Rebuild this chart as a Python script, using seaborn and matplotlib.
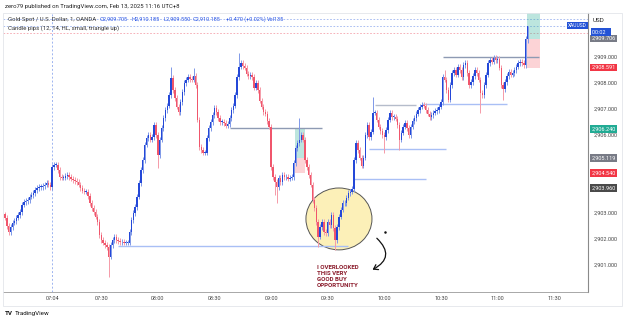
import matplotlib
matplotlib.use("Agg")
import matplotlib.pyplot as plt
from matplotlib.patches import Ellipse, Rectangle, FancyArrowPatch
import matplotlib.transforms as mtransforms
import numpy as np
import pandas as pd
import seaborn as sns

# ===============================
# Data (1-minute closes, XAUUSD, OANDA)
# ===============================
closes = [
    2902.81, 2902.50, 2902.27, 2902.46, 2902.62, 2902.69, 2902.81, 2902.92, 2903.04, 2903.31,
    2903.42, 2903.46, 2903.50, 2903.62, 2903.69, 2903.77, 2903.88, 2903.96, 2904.00, 2904.00,
    2904.04, 2904.08, 2904.15, 2904.08, 2904.00, 2904.77, 2904.85, 2904.85, 2904.65, 2904.38,
    2904.35, 2904.35, 2904.42, 2904.46, 2904.38, 2904.31, 2904.27, 2904.23, 2904.19, 2904.08,
    2903.96, 2903.85, 2903.81, 2903.81, 2903.65, 2903.38, 2903.19, 2903.04, 2902.85, 2902.65,
    2902.15, 2901.96, 2901.85, 2901.77, 2901.69, 2901.31, 2901.77, 2901.96, 2902.08, 2901.96,
    2901.92, 2901.88, 2901.88, 2901.85, 2901.85, 2901.85, 2902.27, 2902.73, 2903.00, 2903.23,
    2903.62, 2904.15, 2904.65, 2905.04, 2905.62, 2905.88, 2906.00, 2905.81, 2905.92, 2906.38,
    2906.00, 2905.23, 2905.81, 2906.27, 2906.65, 2906.96, 2907.12, 2907.54, 2908.19, 2907.73,
    2907.42, 2907.08, 2906.88, 2907.27, 2907.65, 2908.00, 2908.12, 2908.23, 2908.15, 2908.12,
    2908.27, 2907.92, 2906.58, 2905.54, 2905.42, 2905.31, 2905.31, 2905.88, 2906.27, 2906.50,
    2906.77, 2907.04, 2906.88, 2906.65, 2906.50, 2906.50, 2906.46, 2906.35, 2906.42, 2906.65,
    2906.96, 2907.12, 2907.54, 2908.23, 2908.62, 2908.77, 2908.65, 2908.58, 2908.35, 2908.27,
    2908.31, 2908.23, 2907.81, 2908.00, 2907.73, 2907.31, 2907.08, 2906.88, 2906.81, 2906.54,
    2906.31, 2904.77, 2904.38, 2904.19, 2904.00, 2904.35, 2904.19, 2904.46, 2904.38, 2904.38,
    2904.31, 2904.35, 2904.38, 2904.92, 2905.50, 2905.69, 2905.81, 2906.00, 2905.81, 2905.04,
    2904.77, 2904.46, 2904.08, 2903.50, 2903.19, 2902.65, 2902.08, 2902.46, 2902.65, 2902.27,
    2902.23, 2902.65, 2902.54, 2902.92, 2902.42, 2901.96, 2902.46, 2902.85, 2903.12, 2903.38,
    2903.38, 2903.58, 2903.77, 2903.81, 2903.92, 2905.04, 2905.69, 2905.42, 2905.12, 2904.81,
    2905.12, 2906.00, 2906.38, 2905.92, 2906.12, 2906.85, 2906.85, 2906.58, 2906.31, 2906.15,
    2906.00, 2905.92, 2906.19, 2906.58, 2906.85, 2906.69, 2906.69, 2906.62, 2906.38, 2905.81,
    2906.08, 2906.31, 2906.46, 2906.27, 2906.00, 2906.31, 2906.54, 2906.65, 2906.81, 2906.96,
    2907.08, 2907.15, 2907.12, 2906.96, 2906.81, 2906.69, 2906.77, 2906.85, 2906.92, 2906.96,
    2907.08, 2907.27, 2908.23, 2908.12, 2907.73, 2907.35, 2907.92, 2908.38, 2908.50, 2908.31,
    2908.62, 2908.50, 2908.23, 2908.69, 2908.77, 2908.38, 2907.92, 2908.04, 2908.27, 2908.50,
    2908.38, 2908.12, 2907.62, 2907.54, 2907.92, 2908.31, 2908.77, 2908.88, 2908.81, 2908.96,
    2908.88, 2908.92, 2908.58, 2907.92, 2907.77, 2908.04, 2908.27, 2908.42, 2908.31, 2908.38,
    2908.50, 2908.62, 2908.77, 2908.81, 2908.77, 2908.69, 2909.705, 2910.185,
]
first_open = 2902.95

# notable wicks (bar index -> price)
wick_high = {88: 2908.62, 100: 2908.58, 124: 2909.15, 156: 2906.65, 195: 2907.46,
             233: 2908.50, 277: 2910.185}
wick_low = {55: 2900.54, 81: 2904.73, 143: 2903.69, 144: 2903.38, 166: 2901.69,
            175: 2901.58, 201: 2905.31, 209: 2905.42, 252: 2906.85, 264: 2907.35,
            277: 2909.55}

session_start_bar = 25          # first bar of the 07:04 session
time_labels = ["07:04", "07:30", "08:00", "08:30", "09:00", "09:30",
               "10:00", "10:30", "11:00", "11:30"]
price_ticks = [2901, 2902, 2903, 2906, 2907, 2908, 2909]

# horizontal levels drawn on the chart: price, from bar, to bar, colour
level_price = [2901.73, 2906.27, 2904.31, 2905.46, 2907.15, 2907.19, 2909.00]
level_from = [60, 119, 185, 193, 196, 221, 232]
level_to = [182, 168, 223, 234, 218, 266, 283]
level_color = ["#a9bff5", "#8e9ab3", "#a9bff5", "#a9bff5", "#b5bccb", "#a9bff5", "#8e9ab3"]

# price-axis tags: price, background
tag_price = [2909.706, 2908.591, 2906.240, 2905.119, 2904.540, 2903.960]
tag_color = ["#787b86", "#f23645", "#22ab94", "#787b86", "#f23645", "#4a4a4a"]

# ===============================
# Build DataFrame
# ===============================
df = pd.DataFrame({"close": closes})
df["open"] = [first_open] + closes[:-1]
df["high"] = df[["open", "close"]].max(axis=1) + 0.1
df["low"] = df[["open", "close"]].min(axis=1) - 0.1
for k, v in wick_high.items():
    df.loc[k, "high"] = v
for k, v in wick_low.items():
    df.loc[k, "low"] = v
df["up"] = df["close"] >= df["open"]

t0 = pd.Timestamp("2025-02-13 07:04")
tick_pos = [session_start_bar + int((pd.Timestamp("2025-02-13 " + t) - t0).total_seconds() // 60)
            for t in time_labels]

# ===============================
# Plot
# ===============================
sns.set_theme(style="white")
plt.rcParams["font.family"] = ["Roboto", "DejaVu Sans"]

W, H = 625, 322
fig = plt.figure(figsize=(W / 100, H / 100), dpi=100)


def fx(x):
    return x / W


def fy(y):
    return 1 - y / H


ax = fig.add_axes([fx(3), fy(292), fx(588) - fx(3), fy(13) - fy(292)])
ax.set_xlim(-1.06, 309)
ax.set_ylim(2899.96, 2910.69)

up_c, dn_c = "#2448d8", "#f0566c"
colors = np.where(df["up"], up_c, dn_c)
wick_colors = np.where(df["up"], "#7f98e8", "#f59aa8")
idx = df.index.values

# dotted price lines and session separator
for p, c in [(2910.46, "#9db4f0"), (2910.185, "#9db4f0"), (2909.92, "#f5a3ad")]:
    ax.axhline(p, color=c, lw=0.6, ls=(0, (2, 2)), zorder=1)
ax.axvline(session_start_bar, color="#9db4f0", lw=0.7, ls=(0, (2, 2)), zorder=1)

# yellow circle
ax.add_patch(Ellipse((177, 2902.77), 35, 2.38, facecolor="#fcf0b8", edgecolor="#555555",
                     lw=0.7, zorder=1))

# position boxes
ax.add_patch(Rectangle((153.5, 2905.119), 5.5, 2906.24 - 2905.119, facecolor="#22ab94",
                       alpha=0.3, lw=0, zorder=1.5))
ax.add_patch(Rectangle((153.5, 2904.54), 5.5, 2905.119 - 2904.54, facecolor="#f7525f",
                       alpha=0.25, lw=0, zorder=1.5))
ax.add_patch(Rectangle((276.5, 2909.706), 7, 2910.70 - 2909.706, facecolor="#22ab94",
                       alpha=0.3, lw=0, zorder=1.5))
ax.add_patch(Rectangle((276.5, 2908.591), 7, 2909.706 - 2908.591, facecolor="#f7525f",
                       alpha=0.25, lw=0, zorder=1.5))

# level lines
for p, a, b, c in zip(level_price, level_from, level_to, level_color):
    ax.hlines(p, a, b, color=c, lw=1.0, zorder=1.8)

# candles
ax.vlines(idx, df["low"], df["high"], color=wick_colors, lw=0.7, zorder=2)
body = (df["close"] - df["open"]).abs().clip(lower=0.02)
ax.bar(idx, body, bottom=df[["open", "close"]].min(axis=1), width=0.75,
       color=colors, lw=0, zorder=2.2)

# annotation
ax.text(165.3, 2900.98, "I OVERLOOKED\nTHIS VERY\nGOOD BUY\nOPPORTUNITY", fontsize=4.4,
        fontweight="bold", color="#8b1c2c", va="top", ha="left", linespacing=1.25, zorder=4)
ax.add_patch(FancyArrowPatch((196, 2902.1), (193.5, 2900.77),
                             connectionstyle="arc3,rad=-0.75", arrowstyle="->,head_length=3,head_width=2",
                             color="#111111", lw=0.9, zorder=4))
ax.plot([201.5], [2902.25], marker="o", ms=0.8, color="#111111", zorder=4)

# axes styling
ax.set_xticks(tick_pos)
ax.set_xticklabels(time_labels)
ax.yaxis.tick_right()
ax.set_yticks(price_ticks)
ax.set_yticklabels([f"{p:,.3f}" for p in price_ticks])
ax.tick_params(axis="both", length=0, labelsize=4, colors="#444444")
ax.tick_params(axis="x", pad=3)
ax.tick_params(axis="y", pad=4)
for s in ["top", "left"]:
    ax.spines[s].set_visible(False)
ax.spines["right"].set_color("#8a8a8a")
ax.spines["right"].set_linewidth(0.8)
ax.spines["bottom"].set_color("#9a9a9a")
ax.spines["bottom"].set_linewidth(0.6)

# price tags on axis
trans = mtransforms.blended_transform_factory(ax.transAxes, ax.transData)
for p, c in zip(tag_price, tag_color):
    ax.text(1.0055, p, f"{p:,.3f}", transform=trans, fontsize=4, color="white",
            va="center", ha="left", zorder=5,
            bbox=dict(boxstyle="square,pad=0.25", fc=c, ec="none"))

# top-right labels
fig.text(fx(593), fy(21), "USD", fontsize=4.5, color="#222222", va="center")
fig.text(fx(568), fy(25.5), "XAUUSD", fontsize=3.5, color="white", va="center",
         bbox=dict(boxstyle="square,pad=0.25", fc="#2453d6", ec="none"))
fig.text(fx(592), fy(32), "00:02   ", fontsize=4, color="white", va="center",
         bbox=dict(boxstyle="square,pad=0.25", fc="#2453d6", ec="none"))

# frame
fig.add_artist(Rectangle((fx(3), fy(306)), fx(622) - fx(3), fy(13) - fy(306),
                         transform=fig.transFigure, fill=False, ec="#e3e5ea", lw=0.6))

# header & legend texts
fig.text(fx(5), fy(6.5), "zero79 published on TradingView.com, Feb 13, 2025 11:16 UTC+8",
         fontsize=4.3, color="#222222", va="center")
fig.text(fx(8), fy(19.5), "Gold Spot / U.S. Dollar, 1, OANDA", fontsize=4.3, color="#333333",
         va="center")
for x, s in [(100, "O2,909.705"), (132, "H2,910.185"), (164, "L2,909.550"),
             (193, "C2,910.185"), (226, "+0.470 (+0.02%)"), (267, "Vol135")]:
    fig.text(fx(x), fy(19.5), s, fontsize=4, color="#2a55e5", va="center")
fig.text(fx(8), fy(28.5), "Candle pips (12, 14, HL, small, triangle up)", fontsize=4.3,
         color="#333333", va="center")

fig.text(fx(5), fy(313.5), "TV", fontsize=4.5, fontweight="bold", color="#111111", va="center")
fig.text(fx(15), fy(313.5), "TradingView", fontsize=4.5, color="#111111", va="center")

plt.savefig("out.png", dpi=100)
